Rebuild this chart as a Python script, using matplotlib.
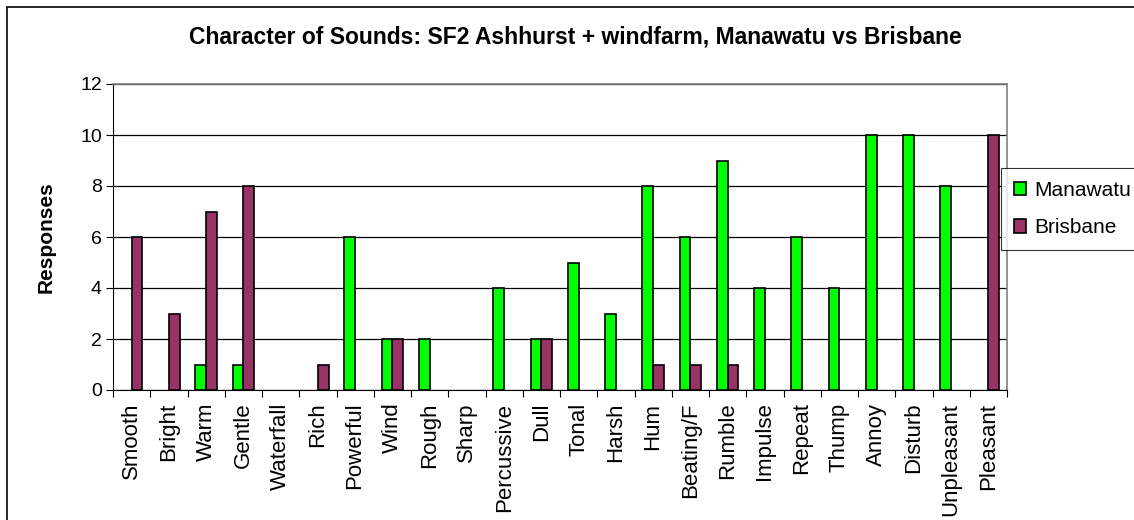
import numpy as np
import matplotlib.pyplot as plt
from matplotlib.patches import Rectangle

plt.rcParams['font.family'] = ['Liberation Sans', 'DejaVu Sans']

categories = ['Smooth', 'Bright', 'Warm', 'Gentle', 'Waterfall', 'Rich', 'Powerful',
              'Wind', 'Rough', 'Sharp', 'Percussive', 'Dull', 'Tonal', 'Harsh', 'Hum',
              'Beating/F', 'Rumble', 'Impulse', 'Repeat', 'Thump', 'Annoy', 'Disturb',
              'Unpleasant', 'Pleasant']
manawatu = [0, 0, 1, 1, 0, 0, 6, 2, 2, 0, 4, 2, 5, 3, 8, 6, 9, 4, 6, 4, 10, 10, 8, 0]
brisbane = [6, 3, 7, 8, 0, 1, 0, 2, 0, 0, 0, 2, 0, 0, 1, 1, 1, 0, 0, 0, 0, 0, 0, 10]
yticks = [0, 2, 4, 6, 8, 10, 12]

green = '#00FF00'
plum = '#993366'

fig = plt.figure(figsize=(11.34, 5.2), dpi=100)
# outer chart border
fig.patches.append(Rectangle((7 / 1134, -0.01), 1.1, 1 - 7 / 520 + 0.01,
                             transform=fig.transFigure, fill=False,
                             edgecolor='black', linewidth=1.2))

ax = fig.add_axes([113 / 1134, 1 - 390 / 520, (1007 - 113) / 1134, (390 - 84) / 520])

x = np.arange(len(categories))
w = 1 / 3.5
for vals, off, col, lab in [(manawatu, -w / 2, green, 'Manawatu'),
                            (brisbane, w / 2, plum, 'Brisbane')]:
    lw = [1.2 if v > 0 else 0 for v in vals]
    ax.bar(x + off, vals, w, color=col, edgecolor='black', linewidth=lw,
           label=lab, zorder=3)

ax.set_xlim(-0.5, len(categories) - 0.5)
ax.set_ylim(0, 12)
ax.set_yticks(yticks)
ax.tick_params(axis='y', labelsize=14, length=5, direction='out', pad=3)
ax.yaxis.grid(True, color='black', linewidth=0.9, zorder=0)
ax.set_axisbelow(True)

ax.set_xticks(np.arange(len(categories) + 1) - 0.5, minor=False)
ax.set_xticklabels([])
ax.tick_params(axis='x', length=5, direction='out')
ax.set_xticks(x, minor=True)
ax.set_xticklabels(categories, minor=True, rotation=90, fontsize=16)
ax.tick_params(axis='x', which='minor', length=0, pad=9)

for s in ['top', 'right']:
    ax.spines[s].set_color('#808080')
    ax.spines[s].set_linewidth(1.2)
for s in ['left', 'bottom']:
    ax.spines[s].set_color('black')

ax.set_ylabel('Responses', fontsize=15, fontweight='bold', labelpad=18)

fig.text(575 / 1134, 1 - 37 / 520,
         'Character of Sounds: SF2 Ashhurst + windfarm, Manawatu vs Brisbane',
         ha='center', va='center', fontsize=16.5, fontweight='bold')

leg = ax.legend(loc='upper left', bbox_to_anchor=(1001 / 1134, 1 - 168 / 520),
                bbox_transform=fig.transFigure, fontsize=15, frameon=True,
                fancybox=False, edgecolor='black', handlelength=0.6, handleheight=0.6,
                handletextpad=0.4, borderpad=0.6, labelspacing=0.9,
                borderaxespad=0)
leg.get_frame().set_linewidth(0.8)
for h in leg.legend_handles:
    h.set_edgecolor('black')
    h.set_linewidth(1.2)

fig.savefig('out.png', dpi=100)
